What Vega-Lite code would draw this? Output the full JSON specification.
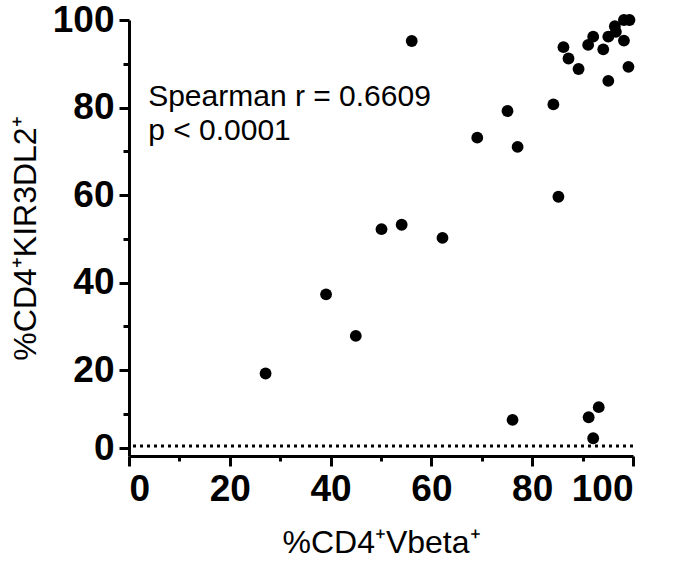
{
  "$schema": "https://vega.github.io/schema/vega-lite/v6.json",
  "autosize": "none",
  "padding": {"left": 129, "top": 20, "right": 45, "bottom": 111},
  "width": 504,
  "height": 436,
  "background": "white",
  "config": {
    "view": {"stroke": null},
    "font": "Liberation Sans",
    "axis": {
      "domainColor": "black", "domainWidth": 3, "tickColor": "black", "tickWidth": 3,
      "grid": false, "labelColor": "black", "labelFont": "Liberation Sans", "labelFontWeight": "bold",
      "labelFontSize": 37, "titleFont": "Liberation Sans", "titleFontWeight": "normal",
      "titleFontSize": 32, "titleColor": "black"
    }
  },
  "layer": [
    {
      "data": {"values": [{"threshold": 1}]},
      "mark": {"type": "rule", "strokeDash": [3, 4], "strokeWidth": 3, "color": "black"},
      "encoding": {
        "y": {"field": "threshold", "type": "quantitative", "axis": null}
      }
    },
    {
      "data": {"values": [{"tx": 3.8, "ty": 80.3, "label": "Spearman r = 0.6609\np < 0.0001"}]},
      "mark": {"type": "text", "align": "left", "baseline": "alphabetic", "fontSize": 30, "lineBreak": "\n", "lineHeight": 34, "color": "black", "font": "Liberation Sans"},
      "encoding": {
        "x": {"field": "tx", "type": "quantitative", "axis": {"orient": "bottom", "values": [10, 30, 50, 70, 90], "labels": false, "domain": false, "tickSize": 5, "title": null}},
        "y": {"field": "ty", "type": "quantitative", "axis": {"orient": "left", "values": [10, 30, 50, 70, 90], "labels": false, "domain": false, "tickSize": 6, "title": null}},
        "text": {"field": "label"}
      }
    },
    {
      "data": {"values": [
        {"vbeta": 27.1, "kir": 19.2}, {"vbeta": 39.1, "kir": 37.3}, {"vbeta": 45.0, "kir": 27.8},
        {"vbeta": 56.1, "kir": 95.2}, {"vbeta": 50.1, "kir": 52.2}, {"vbeta": 54.1, "kir": 53.2},
        {"vbeta": 62.2, "kir": 50.2}, {"vbeta": 69.1, "kir": 73.1}, {"vbeta": 75.1, "kir": 79.2},
        {"vbeta": 77.1, "kir": 71.0}, {"vbeta": 76.1, "kir": 8.6}, {"vbeta": 84.2, "kir": 80.7},
        {"vbeta": 85.2, "kir": 59.6}, {"vbeta": 91.2, "kir": 9.2}, {"vbeta": 93.2, "kir": 11.5},
        {"vbeta": 92.1, "kir": 4.4}, {"vbeta": 86.2, "kir": 93.8}, {"vbeta": 87.2, "kir": 91.2},
        {"vbeta": 89.2, "kir": 88.8}, {"vbeta": 95.1, "kir": 86.1}, {"vbeta": 99.1, "kir": 89.3},
        {"vbeta": 98.2, "kir": 95.3}, {"vbeta": 91.1, "kir": 94.3}, {"vbeta": 92.1, "kir": 96.2},
        {"vbeta": 94.1, "kir": 93.3}, {"vbeta": 95.1, "kir": 96.2}, {"vbeta": 96.4, "kir": 98.6},
        {"vbeta": 96.6, "kir": 97.3}, {"vbeta": 98.2, "kir": 100}, {"vbeta": 99.3, "kir": 100}
      ]},
      "mark": {"type": "point", "filled": true, "size": 140, "color": "black", "opacity": 1},
      "encoding": {
        "x": {
          "field": "vbeta", "type": "quantitative",
          "scale": {"domain": [0, 100], "nice": false, "zero": false},
          "axis": {"orient": "bottom", "values": [0, 20, 40, 60, 80, 100], "tickSize": 10, "labelPadding": 5, "title": "%CD4⁺Vbeta⁺", "titlePadding": 20}
        },
        "y": {
          "field": "kir", "type": "quantitative",
          "scale": {"domain": [-1.6, 0, 4, 100], "range": [436, 428, 420, 0], "nice": false, "zero": false},
          "axis": {"orient": "left", "values": [0, 20, 40, 60, 80, 100], "tickSize": 10, "labelPadding": 5, "title": "%CD4⁺KIR3DL2⁺", "titlePadding": 10}
        }
      }
    }
  ],
  "resolve": {"axis": {"x": "independent", "y": "independent"}}
}
